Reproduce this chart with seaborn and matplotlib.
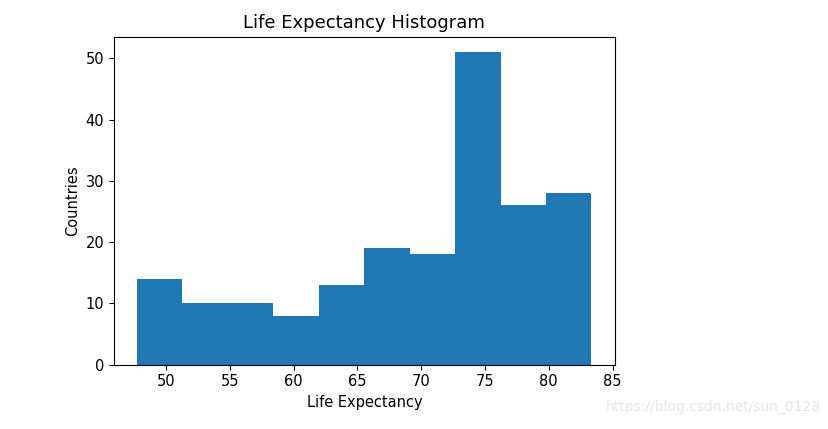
import numpy as np
import matplotlib
matplotlib.use("Agg")
import matplotlib.pyplot as plt
import seaborn as sns

# histogram: 10 equal bins
min_life = 47.7
max_life = 83.35
counts = [14, 10, 10, 8, 13, 19, 18, 51, 26, 28]

edges = np.linspace(min_life, max_life, len(counts) + 1)
mids = (edges[:-1] + edges[1:]) / 2

plt.rcParams["font.size"] = 10.5

fig = plt.figure(figsize=(8.29, 4.29), dpi=100)
ax = fig.add_axes([0.1375, 0.150, 0.604, 0.7645])

sns.histplot(x=mids, weights=counts, bins=len(counts), binrange=(min_life, max_life),
             color="#1f77b4", alpha=1, linewidth=0, ax=ax)

ax.set_title("Life Expectancy Histogram", fontsize=13)
ax.set_xlabel("Life Expectancy")
ax.set_ylabel("Countries")
ax.set_xticks([50, 55, 60, 65, 70, 75, 80, 85])
ax.set_xlim(min_life - 1.78, max_life + 1.82)
ax.set_ylim(0, 53.55)

fig.text(0.99, 0.035, "https://blog.csdn.net/sun_0128", ha="right", va="bottom",
         color="#e6e6e6", fontsize=10)

fig.savefig("out.png", dpi=100)
